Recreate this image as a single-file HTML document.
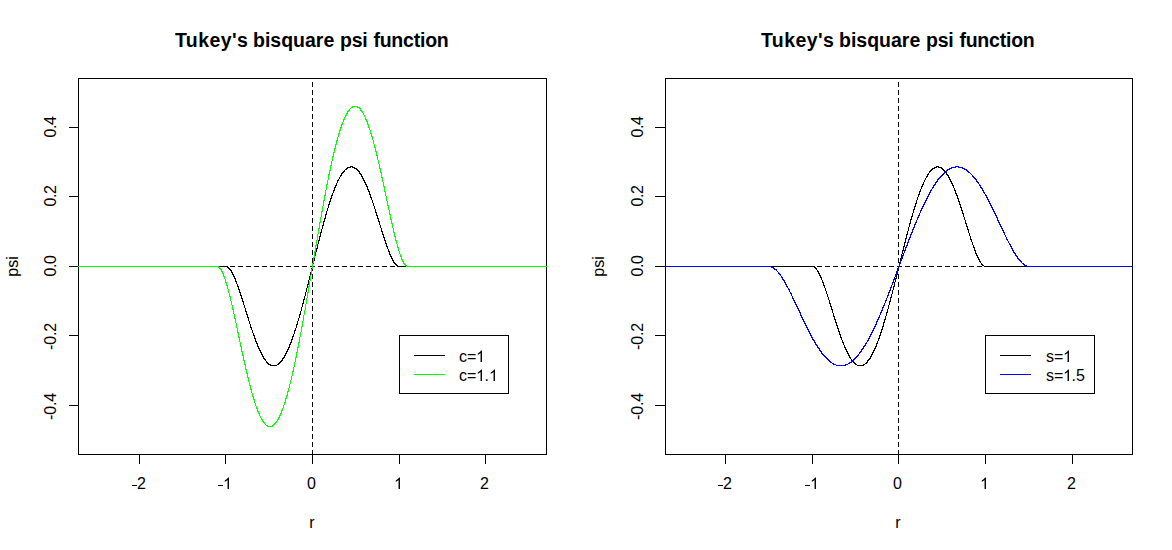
<!DOCTYPE html>
<html><head><meta charset="utf-8"><title>Tukey's bisquare psi function</title>
<style>
html,body{margin:0;padding:0;background:#fff;}
body{width:1172px;height:550px;overflow:hidden;}
svg{display:block;position:absolute;left:0;top:0;}
text{font-family:"Liberation Sans",sans-serif;fill:#000;}
.t{font-size:19.5px;font-weight:bold;text-anchor:start;}
.a{font-size:16px;text-anchor:middle;}
.l{font-size:16px;text-anchor:start;}
</style></head><body>
<svg width="1172" height="550" viewBox="0 0 1172 550" shape-rendering="crispEdges">
<rect x="0" y="0" width="1172" height="550" fill="#fff"/>
<g>
<text class="t" x="175" y="47" style="letter-spacing:0.4px">Tukey's</text>
<text class="t" x="253" y="47" style="letter-spacing:0.0px">bisquare</text>
<text class="t" x="340" y="47" style="letter-spacing:-0.2px">psi</text>
<text class="t" x="373.4" y="47" style="letter-spacing:-0.22px">function</text>
<path d="M78 78h469v1h-469zM78 454h469v1h-469zM78 78h1v377h-1zM546 78h1v377h-1zM139 454h1v10h-1zM225 454h1v10h-1zM312 454h1v10h-1zM399 454h1v10h-1zM485 454h1v10h-1zM69 127h10v1h-10zM69 196h10v1h-10zM69 266h10v1h-10zM69 335h10v1h-10zM69 405h10v1h-10z" fill="#000"/>
<path d="M78 266h5v1h-5zM86 266h5v1h-5zM94 266h5v1h-5zM102 266h5v1h-5zM110 266h5v1h-5zM118 266h5v1h-5zM126 266h5v1h-5zM134 266h5v1h-5zM142 266h5v1h-5zM150 266h5v1h-5zM158 266h5v1h-5zM166 266h5v1h-5zM174 266h5v1h-5zM182 266h5v1h-5zM190 266h5v1h-5zM198 266h5v1h-5zM206 266h5v1h-5zM214 266h5v1h-5zM222 266h5v1h-5zM230 266h5v1h-5zM238 266h5v1h-5zM246 266h5v1h-5zM254 266h5v1h-5zM262 266h5v1h-5zM270 266h5v1h-5zM278 266h5v1h-5zM286 266h5v1h-5zM294 266h5v1h-5zM302 266h5v1h-5zM310 266h5v1h-5zM318 266h5v1h-5zM326 266h5v1h-5zM334 266h5v1h-5zM342 266h5v1h-5zM350 266h5v1h-5zM358 266h5v1h-5zM366 266h5v1h-5zM374 266h5v1h-5zM382 266h5v1h-5zM390 266h5v1h-5zM398 266h5v1h-5zM406 266h5v1h-5zM414 266h5v1h-5zM422 266h5v1h-5zM430 266h5v1h-5zM438 266h5v1h-5zM446 266h5v1h-5zM454 266h5v1h-5zM462 266h5v1h-5zM470 266h5v1h-5zM478 266h5v1h-5zM486 266h5v1h-5zM494 266h5v1h-5zM502 266h5v1h-5zM510 266h5v1h-5zM518 266h5v1h-5zM526 266h5v1h-5zM534 266h5v1h-5zM542 266h5v1h-5zM312 82h1v5h-1zM312 90h1v5h-1zM312 98h1v5h-1zM312 106h1v5h-1zM312 114h1v5h-1zM312 122h1v5h-1zM312 130h1v5h-1zM312 138h1v5h-1zM312 146h1v5h-1zM312 154h1v5h-1zM312 162h1v5h-1zM312 170h1v5h-1zM312 178h1v5h-1zM312 186h1v5h-1zM312 194h1v5h-1zM312 202h1v5h-1zM312 210h1v5h-1zM312 218h1v5h-1zM312 226h1v5h-1zM312 234h1v5h-1zM312 242h1v5h-1zM312 250h1v5h-1zM312 258h1v5h-1zM312 266h1v5h-1zM312 274h1v5h-1zM312 282h1v5h-1zM312 290h1v5h-1zM312 298h1v5h-1zM312 306h1v5h-1zM312 314h1v5h-1zM312 322h1v5h-1zM312 330h1v5h-1zM312 338h1v5h-1zM312 346h1v5h-1zM312 354h1v5h-1zM312 362h1v5h-1zM312 370h1v5h-1zM312 378h1v5h-1zM312 386h1v5h-1zM312 394h1v5h-1zM312 402h1v5h-1zM312 410h1v5h-1zM312 418h1v5h-1zM312 426h1v5h-1zM312 434h1v5h-1zM312 442h1v5h-1zM312 450h1v5h-1z" fill="#000"/>
<path d="M283 357h1v2h-1zM227 266h1v2h-1zM286 351h1v3h-1zM235 278h1v4h-1zM298 318h1v3h-1zM321 229h1v4h-1zM324 218h1v4h-1zM336 183h1v3h-1zM367 186h1v4h-1zM228 267h1v2h-1zM315 252h1v4h-1zM278 363h1v2h-1zM363 178h1v3h-1zM391 256h1v3h-1zM307 284h1v4h-1zM282 358h1v3h-1zM263 356h1v3h-1zM320 232h1v5h-1zM384 237h1v4h-1zM392 258h1v3h-1zM359 171h1v3h-1zM395 263h1v2h-1zM267 362h1v2h-1zM311 268h1v4h-1zM299 314h1v4h-1zM377 215h1v4h-1zM256 341h1v3h-1zM340 175h1v2h-1zM370 194h1v4h-1zM249 321h1v3h-1zM352 166h1v2h-1zM328 204h1v4h-1zM302 303h1v4h-1zM242 298h1v4h-1zM316 248h1v4h-1zM319 236h1v5h-1zM255 338h1v4h-1zM332 193h1v3h-1zM252 330h1v3h-1zM310 272h1v5h-1zM245 308h1v4h-1zM394 262h1v2h-1zM323 221h1v5h-1zM356 168h1v2h-1zM266 361h1v2h-1zM241 295h1v4h-1zM289 344h1v4h-1zM327 208h1v3h-1zM362 176h1v3h-1zM390 254h1v3h-1zM259 348h1v3h-1zM262 354h1v3h-1zM331 195h1v4h-1zM383 234h1v4h-1zM376 212h1v4h-1zM306 288h1v4h-1zM294 330h1v4h-1zM314 256h1v5h-1zM248 317h1v4h-1zM369 191h1v4h-1zM387 246h1v3h-1zM339 177h1v2h-1zM380 225h1v3h-1zM234 276h1v3h-1zM293 334h1v3h-1zM231 270h1v3h-1zM373 203h1v3h-1zM297 321h1v4h-1zM265 359h1v2h-1zM301 307h1v4h-1zM285 353h1v3h-1zM335 185h1v3h-1zM258 346h1v3h-1zM238 286h1v4h-1zM343 171h1v2h-1zM288 347h1v3h-1zM326 211h1v4h-1zM386 243h1v4h-1zM366 184h1v3h-1zM379 221h1v4h-1zM305 292h1v4h-1zM372 200h1v3h-1zM318 240h1v4h-1zM393 260h1v3h-1zM322 225h1v4h-1zM347 167h1v2h-1zM250 324h1v4h-1zM280 361h1v2h-1zM330 198h1v4h-1zM243 301h1v4h-1zM233 274h1v3h-1zM334 187h1v4h-1zM236 281h1v3h-1zM385 240h1v4h-1zM254 335h1v4h-1zM365 182h1v3h-1zM300 311h1v4h-1zM229 268h1v2h-1zM378 218h1v4h-1zM247 314h1v4h-1zM230 269h1v2h-1zM389 251h1v4h-1zM317 244h1v5h-1zM251 327h1v3h-1zM240 292h1v4h-1zM268 363h1v2h-1zM292 336h1v4h-1zM308 280h1v5h-1zM382 231h1v4h-1zM296 324h1v4h-1zM375 209h1v4h-1zM338 179h1v2h-1zM368 189h1v3h-1zM313 260h1v4h-1zM291 339h1v4h-1zM232 272h1v3h-1zM304 296h1v4h-1zM295 328h1v3h-1zM253 333h1v3h-1zM364 180h1v3h-1zM246 311h1v4h-1zM357 169h1v2h-1zM312 264h1v5h-1zM309 276h1v4h-1zM287 349h1v3h-1zM325 214h1v5h-1zM396 264h1v2h-1zM350 166h1v2h-1zM371 197h1v3h-1zM239 289h1v4h-1zM279 362h1v2h-1zM329 201h1v4h-1zM303 299h1v5h-1zM257 343h1v4h-1zM381 228h1v4h-1zM333 190h1v3h-1zM361 174h1v3h-1zM342 172h1v2h-1zM388 249h1v3h-1zM341 173h1v3h-1zM374 206h1v3h-1zM337 180h1v3h-1zM264 358h1v2h-1zM360 173h1v2h-1zM290 342h1v3h-1zM344 170h1v2h-1zM281 360h1v2h-1zM270 364h1v2h-1zM244 305h1v3h-1zM397 265h1v2h-1zM237 284h1v3h-1zM284 355h1v3h-1zM358 170h1v2h-1zM261 352h1v3h-1zM346 168h1v2h-1zM354 167h1v2h-1zM260 350h1v3h-1zM78 266h149v1h-149zM398 266h149v1h-149zM348 167h2v1h-2zM353 167h1v1h-1zM271 365h6v1h-6zM355 168h1v1h-1zM351 166h1v1h-1zM269 364h1v1h-1zM277 364h1v1h-1zM345 169h1v1h-1z" fill="#000"/>
<path d="M347 111h1v3h-1zM284 402h1v3h-1zM261 418h1v2h-1zM294 362h1v5h-1zM325 190h1v6h-1zM288 388h1v4h-1zM389 210h1v5h-1zM315 245h1v7h-1zM406 265h1v2h-1zM247 373h1v5h-1zM285 398h1v5h-1zM334 148h1v5h-1zM392 223h1v5h-1zM306 298h1v6h-1zM243 355h1v6h-1zM371 133h1v4h-1zM244 360h1v5h-1zM311 269h1v6h-1zM372 136h1v4h-1zM220 268h1v2h-1zM230 296h1v5h-1zM319 222h1v7h-1zM316 240h1v6h-1zM289 384h1v4h-1zM375 147h1v5h-1zM302 321h1v6h-1zM385 191h1v5h-1zM368 124h1v4h-1zM338 133h1v4h-1zM324 195h1v6h-1zM321 211h1v6h-1zM337 137h1v4h-1zM297 347h1v6h-1zM314 251h1v7h-1zM341 124h1v4h-1zM329 170h1v5h-1zM305 304h1v6h-1zM279 415h1v3h-1zM250 385h1v5h-1zM399 251h1v3h-1zM382 177h1v5h-1zM357 106h1v2h-1zM292 371h1v5h-1zM346 113h1v3h-1zM240 342h1v5h-1zM223 273h1v4h-1zM395 236h1v5h-1zM253 396h1v4h-1zM310 275h1v6h-1zM275 422h1v2h-1zM254 399h1v4h-1zM237 328h1v5h-1zM381 172h1v6h-1zM342 122h1v3h-1zM333 152h1v5h-1zM332 156h1v5h-1zM257 408h1v4h-1zM320 217h1v6h-1zM378 160h1v4h-1zM272 425h1v2h-1zM296 352h1v6h-1zM236 323h1v5h-1zM352 106h1v2h-1zM246 369h1v5h-1zM301 326h1v6h-1zM287 391h1v5h-1zM391 219h1v5h-1zM336 140h1v5h-1zM233 309h1v5h-1zM377 155h1v5h-1zM388 205h1v5h-1zM263 421h1v2h-1zM340 127h1v4h-1zM331 161h1v5h-1zM318 228h1v6h-1zM328 174h1v6h-1zM374 144h1v4h-1zM232 305h1v5h-1zM367 121h1v4h-1zM309 281h1v6h-1zM323 200h1v6h-1zM387 201h1v5h-1zM370 130h1v4h-1zM300 332h1v5h-1zM349 109h1v2h-1zM398 247h1v4h-1zM239 337h1v5h-1zM384 186h1v6h-1zM278 417h1v3h-1zM295 357h1v5h-1zM242 351h1v5h-1zM225 279h1v4h-1zM397 244h1v4h-1zM226 282h1v4h-1zM283 405h1v3h-1zM317 234h1v6h-1zM327 180h1v5h-1zM400 254h1v3h-1zM383 182h1v5h-1zM256 406h1v3h-1zM322 206h1v6h-1zM308 286h1v7h-1zM335 144h1v5h-1zM394 232h1v5h-1zM252 393h1v4h-1zM390 214h1v6h-1zM303 315h1v6h-1zM248 377h1v5h-1zM393 228h1v5h-1zM290 380h1v4h-1zM259 413h1v3h-1zM281 410h1v4h-1zM313 257h1v6h-1zM235 318h1v5h-1zM343 119h1v3h-1zM339 130h1v4h-1zM380 168h1v5h-1zM218 266h1v2h-1zM299 337h1v6h-1zM277 419h1v2h-1zM376 151h1v5h-1zM304 310h1v5h-1zM326 184h1v6h-1zM282 408h1v3h-1zM245 364h1v6h-1zM365 117h1v3h-1zM241 346h1v6h-1zM224 276h1v3h-1zM307 292h1v6h-1zM373 140h1v4h-1zM231 301h1v4h-1zM366 119h1v3h-1zM386 196h1v5h-1zM312 263h1v6h-1zM227 285h1v4h-1zM255 403h1v3h-1zM228 289h1v4h-1zM403 261h1v3h-1zM396 240h1v4h-1zM298 342h1v6h-1zM330 165h1v6h-1zM238 332h1v6h-1zM251 389h1v4h-1zM234 314h1v5h-1zM293 367h1v5h-1zM379 164h1v5h-1zM361 110h1v2h-1zM364 115h1v2h-1zM345 115h1v2h-1zM402 259h1v3h-1zM280 413h1v3h-1zM260 416h1v2h-1zM405 264h1v2h-1zM276 421h1v2h-1zM249 382h1v4h-1zM360 108h1v3h-1zM291 376h1v4h-1zM264 422h1v2h-1zM348 110h1v2h-1zM229 293h1v4h-1zM363 113h1v2h-1zM219 267h1v2h-1zM222 271h1v3h-1zM344 117h1v3h-1zM286 395h1v4h-1zM401 256h1v4h-1zM262 419h1v3h-1zM362 111h1v2h-1zM369 127h1v3h-1zM273 424h1v2h-1zM221 269h1v3h-1zM258 411h1v3h-1zM267 425h1v2h-1zM274 423h1v2h-1zM404 263h1v2h-1zM359 107h1v2h-1zM78 266h140v1h-140zM407 266h140v1h-140zM353 106h4v1h-4zM265 424h1v1h-1zM268 426h4v1h-4zM350 108h1v1h-1zM266 425h1v1h-1zM351 107h1v1h-1zM358 107h1v1h-1z" fill="#00ff00"/>
<rect x="132" y="485" width="5" height="1" fill="#000"/>
<text class="l" x="137" y="489">2</text>
<rect x="218" y="485" width="5" height="1" fill="#000"/>
<path d="M763 0H583V1147Q518 1085 412.5 1023T223 930V1104Q374 1175 487 1276T647 1472H763Z" transform="translate(223 489) scale(0.0078125 -0.0078125)" fill="#000" shape-rendering="geometricPrecision"/>
<text class="l" x="307" y="489">0</text>
<path d="M763 0H583V1147Q518 1085 412.5 1023T223 930V1104Q374 1175 487 1276T647 1472H763Z" transform="translate(394 489) scale(0.0078125 -0.0078125)" fill="#000" shape-rendering="geometricPrecision"/>
<text class="l" x="480" y="489">2</text>
<text class="a" x="312" y="528">r</text>
<text class="a" style="letter-spacing:-0.5px" transform="translate(56 127) rotate(-90)">0.4</text>
<text class="a" style="letter-spacing:-0.5px" transform="translate(56 196) rotate(-90)">0.2</text>
<text class="a" style="letter-spacing:-0.5px" transform="translate(56 266) rotate(-90)">0.0</text>
<text class="a" style="letter-spacing:-0.15px" transform="translate(56 336.5) rotate(-90)">-0.2</text>
<text class="a" style="letter-spacing:-0.15px" transform="translate(56 406.5) rotate(-90)">-0.4</text>
<text class="a" transform="translate(18 266.5) rotate(-90)">psi</text>
<rect x="399" y="335" width="110" height="59" fill="#fff"/>
<path d="M399 335h110v1h-110zM399 393h110v1h-110zM399 335h1v59h-1zM508 335h1v59h-1zM414 355h31v1h-31z" fill="#000"/>
<path d="M414 374h31v1h-31z" fill="#00ff00"/>
<text class="l" x="459" y="362">c=</text>
<path d="M763 0H583V1147Q518 1085 412.5 1023T223 930V1104Q374 1175 487 1276T647 1472H763Z" transform="translate(476 362) scale(0.0078125 -0.0078125)" fill="#000" shape-rendering="geometricPrecision"/>
<text class="l" x="459" y="381">c=</text>
<path d="M763 0H583V1147Q518 1085 412.5 1023T223 930V1104Q374 1175 487 1276T647 1472H763Z" transform="translate(476 381) scale(0.0078125 -0.0078125)" fill="#000" shape-rendering="geometricPrecision"/>
<text class="l" x="484.5" y="381">.</text>
<path d="M763 0H583V1147Q518 1085 412.5 1023T223 930V1104Q374 1175 487 1276T647 1472H763Z" transform="translate(489 381) scale(0.0078125 -0.0078125)" fill="#000" shape-rendering="geometricPrecision"/>
</g>
<g>
<text class="t" x="761" y="47" style="letter-spacing:0.4px">Tukey's</text>
<text class="t" x="839" y="47" style="letter-spacing:0.0px">bisquare</text>
<text class="t" x="926" y="47" style="letter-spacing:-0.2px">psi</text>
<text class="t" x="959.4" y="47" style="letter-spacing:-0.22px">function</text>
<path d="M665 78h468v1h-468zM665 454h468v1h-468zM665 78h1v377h-1zM1132 78h1v377h-1zM725 454h1v10h-1zM812 454h1v10h-1zM898 454h1v10h-1zM985 454h1v10h-1zM1072 454h1v10h-1zM655 127h11v1h-11zM655 196h11v1h-11zM655 266h11v1h-11zM655 335h11v1h-11zM655 405h11v1h-11z" fill="#000"/>
<path d="M665 266h5v1h-5zM673 266h5v1h-5zM681 266h5v1h-5zM689 266h5v1h-5zM697 266h5v1h-5zM705 266h5v1h-5zM713 266h5v1h-5zM721 266h5v1h-5zM729 266h5v1h-5zM737 266h5v1h-5zM745 266h5v1h-5zM753 266h5v1h-5zM761 266h5v1h-5zM769 266h5v1h-5zM777 266h5v1h-5zM785 266h5v1h-5zM793 266h5v1h-5zM801 266h5v1h-5zM809 266h5v1h-5zM817 266h5v1h-5zM825 266h5v1h-5zM833 266h5v1h-5zM841 266h5v1h-5zM849 266h5v1h-5zM857 266h5v1h-5zM865 266h5v1h-5zM873 266h5v1h-5zM881 266h5v1h-5zM889 266h5v1h-5zM897 266h5v1h-5zM905 266h5v1h-5zM913 266h5v1h-5zM921 266h5v1h-5zM929 266h5v1h-5zM937 266h5v1h-5zM945 266h5v1h-5zM953 266h5v1h-5zM961 266h5v1h-5zM969 266h5v1h-5zM977 266h5v1h-5zM985 266h5v1h-5zM993 266h5v1h-5zM1001 266h5v1h-5zM1009 266h5v1h-5zM1017 266h5v1h-5zM1025 266h5v1h-5zM1033 266h5v1h-5zM1041 266h5v1h-5zM1049 266h5v1h-5zM1057 266h5v1h-5zM1065 266h5v1h-5zM1073 266h5v1h-5zM1081 266h5v1h-5zM1089 266h5v1h-5zM1097 266h5v1h-5zM1105 266h5v1h-5zM1113 266h5v1h-5zM1121 266h5v1h-5zM1129 266h4v1h-4zM898 82h1v5h-1zM898 90h1v5h-1zM898 98h1v5h-1zM898 106h1v5h-1zM898 114h1v5h-1zM898 122h1v5h-1zM898 130h1v5h-1zM898 138h1v5h-1zM898 146h1v5h-1zM898 154h1v5h-1zM898 162h1v5h-1zM898 170h1v5h-1zM898 178h1v5h-1zM898 186h1v5h-1zM898 194h1v5h-1zM898 202h1v5h-1zM898 210h1v5h-1zM898 218h1v5h-1zM898 226h1v5h-1zM898 234h1v5h-1zM898 242h1v5h-1zM898 250h1v5h-1zM898 258h1v5h-1zM898 266h1v5h-1zM898 274h1v5h-1zM898 282h1v5h-1zM898 290h1v5h-1zM898 298h1v5h-1zM898 306h1v5h-1zM898 314h1v5h-1zM898 322h1v5h-1zM898 330h1v5h-1zM898 338h1v5h-1zM898 346h1v5h-1zM898 354h1v5h-1zM898 362h1v5h-1zM898 370h1v5h-1zM898 378h1v5h-1zM898 386h1v5h-1zM898 394h1v5h-1zM898 402h1v5h-1zM898 410h1v5h-1zM898 418h1v5h-1zM898 426h1v5h-1zM898 434h1v5h-1zM898 442h1v5h-1zM898 450h1v5h-1z" fill="#000"/>
<path d="M909 223h1v4h-1zM883 322h1v5h-1zM906 234h1v5h-1zM941 167h1v2h-1zM963 213h1v4h-1zM973 245h1v3h-1zM841 337h1v3h-1zM872 352h1v3h-1zM956 193h1v3h-1zM834 316h1v4h-1zM900 258h1v4h-1zM888 305h1v4h-1zM827 294h1v3h-1zM913 209h1v4h-1zM948 175h1v3h-1zM966 223h1v4h-1zM892 290h1v4h-1zM848 353h1v3h-1zM959 201h1v4h-1zM838 328h1v4h-1zM917 197h1v3h-1zM969 233h1v3h-1zM905 238h1v5h-1zM929 171h1v2h-1zM977 255h1v3h-1zM868 359h1v2h-1zM871 354h1v3h-1zM980 261h1v2h-1zM880 332h1v4h-1zM852 360h1v2h-1zM899 262h1v5h-1zM962 210h1v4h-1zM896 274h1v5h-1zM884 319h1v4h-1zM922 184h1v3h-1zM955 190h1v4h-1zM863 364h1v2h-1zM875 346h1v3h-1zM925 178h1v2h-1zM904 242h1v5h-1zM901 254h1v5h-1zM840 334h1v4h-1zM867 360h1v3h-1zM879 335h1v4h-1zM820 275h1v3h-1zM895 278h1v4h-1zM833 313h1v4h-1zM908 227h1v4h-1zM851 359h1v2h-1zM826 291h1v3h-1zM912 213h1v4h-1zM844 345h1v3h-1zM847 351h1v3h-1zM878 338h1v3h-1zM976 253h1v3h-1zM891 294h1v4h-1zM837 325h1v4h-1zM830 303h1v4h-1zM870 356h1v3h-1zM954 188h1v3h-1zM823 282h1v4h-1zM972 242h1v3h-1zM890 297h1v5h-1zM965 220h1v4h-1zM887 309h1v4h-1zM928 173h1v2h-1zM961 207h1v4h-1zM958 198h1v4h-1zM979 259h1v3h-1zM882 326h1v4h-1zM854 362h1v2h-1zM874 348h1v3h-1zM886 312h1v4h-1zM924 180h1v2h-1zM975 250h1v4h-1zM855 363h1v2h-1zM968 229h1v4h-1zM836 322h1v4h-1zM916 200h1v4h-1zM829 300h1v4h-1zM911 216h1v4h-1zM822 280h1v3h-1zM815 267h1v2h-1zM819 273h1v3h-1zM816 268h1v2h-1zM903 246h1v5h-1zM978 257h1v3h-1zM982 264h1v2h-1zM907 231h1v4h-1zM843 342h1v3h-1zM920 189h1v3h-1zM902 250h1v4h-1zM877 341h1v3h-1zM821 277h1v3h-1zM881 329h1v4h-1zM942 168h1v2h-1zM931 169h1v2h-1zM839 331h1v4h-1zM814 266h1v2h-1zM885 316h1v4h-1zM923 182h1v3h-1zM971 239h1v3h-1zM943 169h1v2h-1zM951 181h1v3h-1zM898 266h1v4h-1zM832 309h1v4h-1zM932 168h1v2h-1zM936 166h1v2h-1zM853 361h1v2h-1zM825 288h1v3h-1zM927 174h1v3h-1zM846 349h1v3h-1zM957 195h1v4h-1zM894 282h1v5h-1zM953 185h1v3h-1zM915 203h1v4h-1zM828 297h1v3h-1zM818 271h1v3h-1zM919 191h1v4h-1zM960 204h1v4h-1zM950 179h1v3h-1zM897 270h1v5h-1zM910 219h1v5h-1zM981 263h1v2h-1zM964 217h1v3h-1zM842 340h1v3h-1zM876 343h1v4h-1zM914 206h1v4h-1zM845 347h1v3h-1zM835 319h1v4h-1zM889 301h1v4h-1zM938 166h1v2h-1zM974 247h1v4h-1zM930 170h1v2h-1zM967 226h1v4h-1zM893 286h1v4h-1zM970 236h1v4h-1zM817 270h1v2h-1zM946 172h1v3h-1zM949 177h1v3h-1zM831 306h1v4h-1zM824 285h1v3h-1zM934 167h1v2h-1zM918 194h1v3h-1zM952 183h1v3h-1zM921 186h1v3h-1zM849 355h1v3h-1zM945 171h1v2h-1zM926 176h1v2h-1zM944 170h1v2h-1zM866 362h1v2h-1zM873 350h1v3h-1zM947 174h1v2h-1zM869 358h1v2h-1zM850 357h1v2h-1zM665 266h149v1h-149zM984 266h149v1h-149zM933 168h1v1h-1zM857 365h6v1h-6zM865 363h1v1h-1zM935 167h1v1h-1zM939 167h2v1h-2zM983 265h1v1h-1zM856 364h1v1h-1zM864 364h1v1h-1zM937 166h1v1h-1z" fill="#000"/>
<path d="M860 351h1v2h-1zM929 192h1v3h-1zM897 268h1v4h-1zM808 329h1v3h-1zM975 178h1v2h-1zM921 208h1v3h-1zM896 271h1v4h-1zM1004 232h1v3h-1zM876 321h1v4h-1zM782 277h1v3h-1zM900 261h1v3h-1zM803 319h1v3h-1zM937 179h1v3h-1zM1026 265h1v2h-1zM867 340h1v2h-1zM892 282h1v3h-1zM913 227h1v3h-1zM786 284h1v3h-1zM925 200h1v3h-1zM905 247h1v4h-1zM797 306h1v3h-1zM800 312h1v4h-1zM852 360h1v2h-1zM993 209h1v3h-1zM909 237h1v3h-1zM884 303h1v3h-1zM899 263h1v4h-1zM908 239h1v4h-1zM933 185h1v3h-1zM774 268h1v2h-1zM814 340h1v3h-1zM1007 239h1v2h-1zM989 201h1v3h-1zM912 229h1v4h-1zM811 335h1v3h-1zM924 202h1v3h-1zM940 176h1v2h-1zM825 356h1v2h-1zM979 184h1v2h-1zM807 327h1v3h-1zM781 276h1v2h-1zM871 332h1v3h-1zM789 289h1v3h-1zM1000 224h1v3h-1zM883 305h1v3h-1zM917 217h1v3h-1zM944 172h1v2h-1zM964 168h1v2h-1zM941 175h1v2h-1zM920 210h1v3h-1zM888 292h1v4h-1zM875 324h1v3h-1zM967 170h1v2h-1zM996 215h1v3h-1zM796 304h1v3h-1zM856 356h1v2h-1zM891 285h1v3h-1zM859 352h1v2h-1zM916 220h1v3h-1zM817 345h1v3h-1zM928 194h1v3h-1zM868 338h1v3h-1zM992 207h1v3h-1zM1010 244h1v3h-1zM880 312h1v3h-1zM895 274h1v3h-1zM1021 261h1v2h-1zM810 333h1v3h-1zM818 347h1v2h-1zM821 351h1v3h-1zM1006 237h1v3h-1zM974 177h1v2h-1zM854 358h1v2h-1zM947 169h1v2h-1zM863 346h1v3h-1zM1003 230h1v3h-1zM866 342h1v2h-1zM785 282h1v3h-1zM978 182h1v2h-1zM788 288h1v2h-1zM999 222h1v3h-1zM879 315h1v3h-1zM828 359h1v2h-1zM802 317h1v3h-1zM911 232h1v3h-1zM907 242h1v4h-1zM799 310h1v3h-1zM862 348h1v2h-1zM995 213h1v3h-1zM936 181h1v2h-1zM795 302h1v3h-1zM813 339h1v2h-1zM988 199h1v3h-1zM973 176h1v2h-1zM1020 260h1v2h-1zM809 331h1v3h-1zM919 213h1v3h-1zM1002 228h1v3h-1zM791 293h1v3h-1zM985 194h1v2h-1zM851 361h1v2h-1zM874 326h1v3h-1zM890 287h1v4h-1zM784 280h1v3h-1zM932 187h1v2h-1zM798 308h1v3h-1zM939 177h1v2h-1zM903 253h1v3h-1zM870 334h1v3h-1zM1013 250h1v3h-1zM882 307h1v4h-1zM923 204h1v3h-1zM773 267h1v2h-1zM812 337h1v3h-1zM820 350h1v2h-1zM955 166h1v2h-1zM987 197h1v3h-1zM792 296h1v3h-1zM977 181h1v2h-1zM878 317h1v3h-1zM980 185h1v3h-1zM887 295h1v3h-1zM806 325h1v3h-1zM827 358h1v2h-1zM981 187h1v2h-1zM885 300h1v3h-1zM894 277h1v3h-1zM858 354h1v2h-1zM780 274h1v2h-1zM783 279h1v2h-1zM898 266h1v3h-1zM935 182h1v3h-1zM886 298h1v3h-1zM918 215h1v3h-1zM930 190h1v3h-1zM1017 256h1v3h-1zM819 348h1v3h-1zM873 328h1v3h-1zM994 211h1v3h-1zM816 344h1v2h-1zM906 245h1v3h-1zM983 190h1v3h-1zM991 205h1v3h-1zM943 173h1v2h-1zM910 234h1v4h-1zM976 179h1v3h-1zM984 192h1v2h-1zM861 349h1v3h-1zM902 255h1v4h-1zM1024 264h1v2h-1zM805 323h1v3h-1zM826 357h1v2h-1zM869 336h1v3h-1zM998 220h1v3h-1zM881 310h1v3h-1zM915 222h1v3h-1zM958 166h1v2h-1zM1001 226h1v3h-1zM927 196h1v3h-1zM849 362h1v2h-1zM1012 248h1v3h-1zM968 171h1v2h-1zM833 363h1v2h-1zM865 343h1v3h-1zM794 300h1v3h-1zM853 359h1v2h-1zM889 290h1v3h-1zM914 224h1v4h-1zM946 170h1v2h-1zM1016 255h1v2h-1zM990 203h1v3h-1zM845 364h1v2h-1zM893 279h1v4h-1zM815 342h1v3h-1zM1023 263h1v2h-1zM922 206h1v3h-1zM997 217h1v4h-1zM938 178h1v2h-1zM793 298h1v3h-1zM986 195h1v3h-1zM822 353h1v2h-1zM1008 241h1v2h-1zM823 354h1v2h-1zM904 250h1v3h-1zM926 198h1v3h-1zM982 188h1v3h-1zM804 321h1v3h-1zM872 330h1v3h-1zM829 360h1v2h-1zM864 345h1v2h-1zM771 266h1v2h-1zM801 315h1v3h-1zM830 361h1v2h-1zM945 171h1v2h-1zM1015 253h1v3h-1zM901 258h1v3h-1zM949 168h1v2h-1zM1011 246h1v3h-1zM972 175h1v2h-1zM790 292h1v2h-1zM1014 252h1v2h-1zM1018 258h1v2h-1zM778 272h1v2h-1zM855 357h1v2h-1zM824 355h1v2h-1zM966 169h1v2h-1zM1009 243h1v2h-1zM931 189h1v2h-1zM951 167h1v2h-1zM962 167h1v2h-1zM776 269h1v2h-1zM857 355h1v2h-1zM877 319h1v3h-1zM942 174h1v2h-1zM934 184h1v2h-1zM1005 235h1v2h-1zM779 273h1v2h-1zM787 286h1v2h-1zM1019 259h1v2h-1zM665 266h106v1h-106zM1027 266h106v1h-106zM956 166h2v1h-2zM1025 265h1v1h-1zM832 363h1v1h-1zM848 363h1v1h-1zM834 364h2v1h-2zM846 364h2v1h-2zM831 362h1v1h-1zM850 362h1v1h-1zM950 168h1v1h-1zM963 168h1v1h-1zM970 173h1v1h-1zM836 365h9v1h-9zM971 174h1v1h-1zM772 267h1v1h-1zM952 167h3v1h-3zM959 167h3v1h-3zM1022 263h1v1h-1zM969 172h1v1h-1zM775 269h1v1h-1zM948 169h1v1h-1zM965 169h1v1h-1zM777 271h1v1h-1z" fill="#0000ff"/>
<rect x="718" y="485" width="5" height="1" fill="#000"/>
<text class="l" x="723" y="489">2</text>
<rect x="805" y="485" width="5" height="1" fill="#000"/>
<path d="M763 0H583V1147Q518 1085 412.5 1023T223 930V1104Q374 1175 487 1276T647 1472H763Z" transform="translate(810 489) scale(0.0078125 -0.0078125)" fill="#000" shape-rendering="geometricPrecision"/>
<text class="l" x="893" y="489">0</text>
<path d="M763 0H583V1147Q518 1085 412.5 1023T223 930V1104Q374 1175 487 1276T647 1472H763Z" transform="translate(980 489) scale(0.0078125 -0.0078125)" fill="#000" shape-rendering="geometricPrecision"/>
<text class="l" x="1067" y="489">2</text>
<text class="a" x="898" y="528">r</text>
<text class="a" style="letter-spacing:-0.5px" transform="translate(643 127) rotate(-90)">0.4</text>
<text class="a" style="letter-spacing:-0.5px" transform="translate(643 196) rotate(-90)">0.2</text>
<text class="a" style="letter-spacing:-0.5px" transform="translate(643 266) rotate(-90)">0.0</text>
<text class="a" style="letter-spacing:-0.15px" transform="translate(643 336.5) rotate(-90)">-0.2</text>
<text class="a" style="letter-spacing:-0.15px" transform="translate(643 406.5) rotate(-90)">-0.4</text>
<text class="a" transform="translate(604 266.5) rotate(-90)">psi</text>
<rect x="985" y="335" width="110" height="59" fill="#fff"/>
<path d="M985 335h110v1h-110zM985 393h110v1h-110zM985 335h1v59h-1zM1094 335h1v59h-1zM1000 355h31v1h-31z" fill="#000"/>
<path d="M1000 374h31v1h-31z" fill="#0000ff"/>
<text class="l" x="1046" y="362">s=</text>
<path d="M763 0H583V1147Q518 1085 412.5 1023T223 930V1104Q374 1175 487 1276T647 1472H763Z" transform="translate(1063 362) scale(0.0078125 -0.0078125)" fill="#000" shape-rendering="geometricPrecision"/>
<text class="l" x="1046" y="381">s=</text>
<path d="M763 0H583V1147Q518 1085 412.5 1023T223 930V1104Q374 1175 487 1276T647 1472H763Z" transform="translate(1063 381) scale(0.0078125 -0.0078125)" fill="#000" shape-rendering="geometricPrecision"/>
<text class="l" x="1071.5" y="381">.</text>
<text class="l" x="1076" y="381">5</text>
</g>
</svg>
</body></html>
